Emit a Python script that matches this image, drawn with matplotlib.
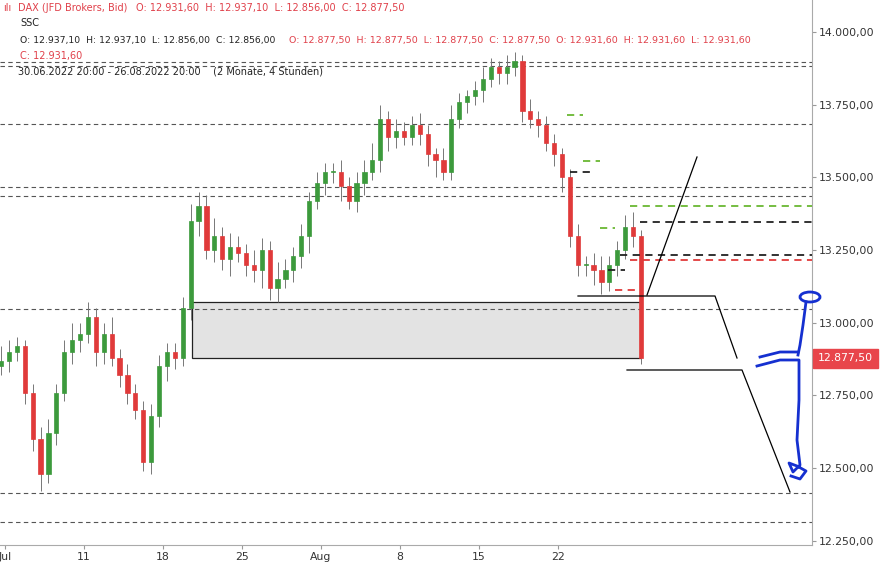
import matplotlib
matplotlib.use("Agg")
import matplotlib.pyplot as plt
from matplotlib.patches import Rectangle, Ellipse
import numpy as np

# two 4h-style bars per trading day, day index (0 = 4 Jul)
days = list(range(-1, 41))
closes = [12800,12850, 12870,12900, 12920,12760, 12600,12480, 12620,12760, 12900,12940,
          12960,13020, 12900,12960, 12880,12820, 12760,12700, 12520,12680, 12850,12900,
          12880,13050, 13350,13400, 13250,13300, 13220,13260, 13240,13200, 13180,13250,
          13120,13150, 13180,13230, 13300,13420, 13480,13520, 13520,13470, 13420,13480,
          13520,13560, 13700,13640, 13660,13640, 13680,13650, 13580,13560, 13520,13700,
          13760,13780, 13800,13840, 13880,13860, 13880,13900, 13730,13700, 13680,13620,
          13580,13500, 13300,13200, 13200,13180, 13140,13200, 13250,13330, 13300,12877.5]
wick_up = [40,30, 50,40, 30,20, 30,40, 50,30, 40,60, 40,50, 30,40, 60,30, 40,30, 30,40, 40,30,
           30,40, 60,50, 40,60, 30,50, 40,30, 50,40, 30,60, 40,30, 40,30, 40,30, 30,40, 30,40,
           40,60, 50,30, 40,30, 30,40, 30,20, 40,50, 30,20, 30,40, 30,20, 40,30, 20,40, 30,30,
           30,20, 30,40, 30,40, 50,30, 30,40, 50,20]
wick_dn = [40,30, 30,40, 30,40, 40,60, 30,40, 30,40, 40,30, 50,40, 30,40, 40,30, 30,40, 40,50,
           40,30, 40,50, 30,40, 40,60, 30,40, 40,60, 40,50, 30,40, 40,60, 30,40, 40,50, 30,40,
           40,30, 40,50, 40,30, 30,40, 40,60, 30,30, 30,40, 30,40, 30,40, 40,30, 40,30, 40,30,
           40,50, 40,40, 40,50, 40,30, 40,30, 40,20]
hlines = [13897, 13883, 13684, 13467, 13436, 13047, 12415, 12315]
box_top, box_bot = 13071, 12879
tick_days = [0, 5, 10, 15, 20, 25, 30, 35]
tick_labels = ["Jul", "11", "18", "25", "Aug", "8", "15", "22"]
yticks = [12250, 12500, 12750, 13000, 13250, 13500, 13750, 14000]
last_price = 12877.5

def px2x(px): return (px - 5) / 15.8
def py2p(py): return 14000 - (py - 32) * 250 / 72.7

fig = plt.figure(figsize=(8.81, 5.63), dpi=100)
ax = fig.add_axes([0, 18/563, 812/881, 1 - 18/563])
ax.set_xlim(px2x(0), px2x(812))
ax.set_ylim(py2p(545), py2p(0))

GREEN, RED = "#3c9a3c", "#e03a3a"
prev = closes[0] - 30
for i, c in enumerate(closes):
    d = days[i // 2]
    x = d - 0.25 + 0.5 * (i % 2)
    o = prev
    col = GREEN if c >= o else RED
    hi = max(o, c) + wick_up[i]
    lo = min(o, c) - wick_dn[i]
    ax.vlines(x, lo, hi, color="#777777", lw=0.7, zorder=3)
    ax.add_patch(Rectangle((x - 0.13, min(o, c)), 0.26, max(abs(c - o), 3),
                           facecolor=col, edgecolor=col, lw=0.5, zorder=4))
    prev = c

for h in hlines:
    ax.axhline(h, color="#555555", lw=0.8, ls=(0, (4, 3)), zorder=2)

ax.add_patch(Rectangle((px2x(192), box_bot), px2x(641) - px2x(192), box_top - box_bot,
                       facecolor="#e3e3e3", edgecolor="#222222", lw=0.9, zorder=1))

def seg(x0, x1, py, col):
    ax.plot([px2x(x0), px2x(x1)], [py2p(py)] * 2, color=col, lw=1.3, ls=(0, (4, 3)), zorder=5)
seg(567, 583, 115, "#6ab833"); seg(583, 600, 161, "#6ab833"); seg(570, 595, 172, "#222222")
seg(600, 615, 228, "#6ab833"); seg(630, 812, 206, "#6ab833"); seg(640, 812, 222, "#222222")
seg(620, 812, 255, "#222222"); seg(630, 812, 260, "#e03a3a"); seg(615, 635, 290, "#e03a3a")
seg(608, 625, 270, "#222222")

def path(pts, **kw):
    ax.plot([px2x(p[0]) for p in pts], [py2p(p[1]) for p in pts], zorder=6, **kw)
path([(647, 295), (697, 157)], color="black", lw=0.9)
path([(578, 296), (715, 296), (737, 358)], color="black", lw=0.9)
path([(627, 370), (742, 370), (790, 492)], color="black", lw=0.9)
blue = dict(color="#1530d0", lw=2)
ax.add_patch(Ellipse((px2x(810), py2p(297)), 20 / 15.8, 10 * 250 / 72.7, fill=False,
                     edgecolor="#1530d0", lw=2, zorder=6, clip_on=False))
path([(806, 302), (803, 325), (800, 345), (798, 355)], **blue)
path([(760, 357), (780, 352), (798, 352)], **blue)
path([(757, 366), (780, 360), (799, 360), (799, 400), (797, 440), (800, 465),
      (793, 472), (789, 463), (797, 466), (806, 471), (800, 479), (791, 476)], **blue)

ax.yaxis.tick_right()
ax.set_yticks(yticks)
ax.set_yticklabels([f"{v:,.2f}".replace(",", "X").replace(".", ",").replace("X", ".") for v in yticks],
                   fontsize=7.8, color="#333333")
ax.set_xticks(tick_days)
ax.set_xticklabels(tick_labels, fontsize=7.8, color="#333333")
ax.tick_params(length=3, color="#999999", pad=2)
for s in ["top", "left"]:
    ax.spines[s].set_visible(False)
ax.spines["right"].set_color("#aaaaaa")
ax.spines["bottom"].set_color("#aaaaaa")

ax.annotate("12.877,50", xy=(1.0, last_price), xycoords=("axes fraction", "data"),
            xytext=(4, 0), textcoords="offset points", va="center", ha="left",
            fontsize=7.8, color="white",
            bbox=dict(boxstyle="square,pad=0.45", fc="#e8454b", ec="#e8454b"))

def ft(px, py, s, col, fs=7):
    fig.text(px / 881, 1 - py / 563, s, fontsize=fs, color=col, va="center", ha="left")
R, K = "#e0404a", "#222222"
ft(18, 8, "DAX (JFD Brokers, Bid)", R)
ft(136, 8, "O: 12.931,60  H: 12.937,10  L: 12.856,00  C: 12.877,50", R)
ft(20, 23, "SSC", K)
ft(20, 40, "O: 12.937,10  H: 12.937,10  L: 12.856,00  C: 12.856,00", K, 6.7)
ft(289, 40, "O: 12.877,50  H: 12.877,50  L: 12.877,50  C: 12.877,50  O: 12.931,60  H: 12.931,60  L: 12.931,60", R, 6.8)
ft(20, 56, "C: 12.931,60", R)
ft(18, 72, "30.06.2022 20:00 - 26.08.2022 20:00    (2 Monate, 4 Stunden)", K)
ft(3, 8, "ılı", R)

fig.savefig("out.png", dpi=100)
